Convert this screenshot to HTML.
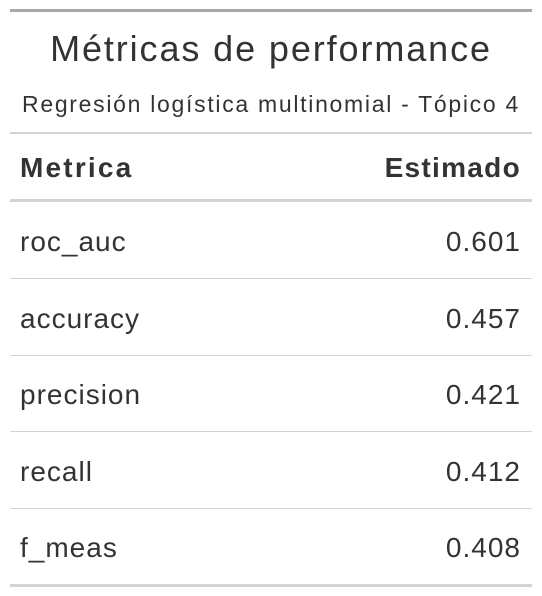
<!DOCTYPE html>
<html><head><meta charset="utf-8"><style>
body{margin:0;width:542px;height:596px;background:#fff;font-family:"Liberation Sans",sans-serif;color:#333;position:relative;overflow:hidden}
.ln{position:absolute;left:10px;width:522px}
.t{position:absolute;white-space:nowrap}
.l{left:20px}.r{right:21px;text-align:right}
.row{font-size:28px;letter-spacing:1px}
</style></head><body>
<div class="ln" style="top:9px;height:3px;background:#A8A8A8"></div>
<div class="t" style="left:0;width:542px;text-align:center;top:28px;font-size:36px;letter-spacing:1.9px">Métricas de performance</div>
<div class="t" style="left:0;width:542px;text-align:center;top:91px;font-size:23px;letter-spacing:1.7px">Regresión logística multinomial - Tópico 4</div>
<div class="ln" style="top:132px;height:2px;background:#D3D3D3"></div>
<div class="t l row" style="top:152px;font-weight:bold;letter-spacing:2.2px">Metrica</div>
<div class="t r row" style="top:152px;font-weight:bold;letter-spacing:1.3px">Estimado</div>
<div class="ln" style="top:199px;height:3px;background:#D3D3D3"></div>
<div id="rows"></div>
<div class="ln" style="top:584px;height:3px;background:#D3D3D3"></div>
<script>
const metrics=["roc_auc","accuracy","precision","recall","f_meas"];
const values=["0.601","0.457","0.421","0.412","0.408"];
const c=document.getElementById('rows');
metrics.forEach((m,i)=>{
  const y=202+i*76.6;
  const a=document.createElement('div');a.className='t l row';a.style.top=(y+24)+'px';a.textContent=m;
  
  
  c.appendChild(a);
  const b=document.createElement('div');b.className='t r row';b.style.top=(y+24)+'px';b.textContent=values[i];
  
  
  c.appendChild(b);
  if(i<metrics.length-1){
    const l=document.createElement('div');l.className='ln';l.style.top=(y+76)+'px';l.style.height='1px';l.style.background='#D3D3D3';
    
    
    c.appendChild(l);
  }
});
</script>
</body></html>
